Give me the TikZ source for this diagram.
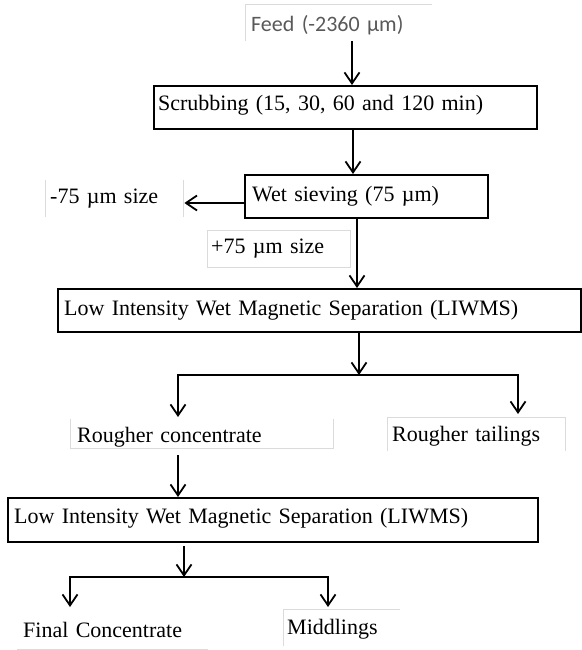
\documentclass[tikz,border=0pt]{standalone}
\usepackage{fontspec}
\setmainfont{Liberation Serif}
\newfontfamily\feedfont{Carlito}
\usetikzlibrary{arrows.meta,calc}

\begin{document}
\begin{tikzpicture}[x=1pt,y=-1pt,
  flow/.style={line width=1.8pt, -{Straight Barb[length=11pt,width=15pt]}},
  procbox/.style={draw, line width=2.2pt, inner ysep=0pt, align=left,
    anchor=north west, font=\fontsize{22}{26}\selectfont},
  txtbox/.style={inner ysep=0pt, align=left, anchor=north west,
    font=\fontsize{22}{26}\selectfont},
  faint/.style={draw=black!14, line width=1pt}
]
\useasboundingbox (0,0) rectangle (581,650);

% process boxes
\node[procbox, inner xsep=4pt, minimum width=383pt, minimum height=43pt, text width=375pt,
  text depth=9pt]
  (scrub) at (153,85) {\mbox{Scrubbing (15, 30, 60 and 120 min)}};
\node[procbox, inner xsep=7pt, minimum width=243pt, minimum height=43pt, text width=229pt]
  (sieve) at (244,174) {\mbox{Wet sieving (75 \textmu m)}};
\node[procbox, inner xsep=6pt, minimum width=523pt, minimum height=43pt, text width=511pt]
  (liwmsA) at (57,288) {\mbox{Low Intensity Wet Magnetic Separation (LIWMS)}};
\node[procbox, inner xsep=6pt, minimum width=530pt, minimum height=44pt, text width=518pt,
  text depth=9pt]
  (liwmsB) at (7,497) {\mbox{Low Intensity Wet Magnetic Separation (LIWMS)}};

% product labels
\node[txtbox, inner xsep=6pt, minimum width=187pt, minimum height=36pt, text width=175pt,
  font=\feedfont\fontsize{22}{26}\selectfont, text=black!65, text height=21pt]
  (feed) at (245,5) {\mbox{Feed (-2360 \textmu m)}};
\node[txtbox, inner xsep=5pt, minimum width=138pt, minimum height=37pt, text width=128pt]
  (minus) at (45,180) {\mbox{-75 \textmu m size}};
\node[txtbox, inner xsep=4pt, minimum width=143pt, minimum height=37pt, text width=135pt]
  (plus) at (207,230) {\mbox{+75 \textmu m size}};
\node[txtbox, inner xsep=7pt, minimum width=263pt, minimum height=29pt, text width=249pt,
  text height=23pt]
  (rc) at (70,419) {\mbox{Rougher concentrate}};
\node[txtbox, inner xsep=5pt, minimum width=178pt, minimum height=34pt, text width=168pt,
  text height=19pt]
  (rt) at (387,417) {\mbox{Rougher tailings}};
\node[txtbox, inner xsep=6pt, minimum width=191pt, minimum height=39pt, text width=179pt]
  (fc) at (17,610) {\mbox{Final Concentrate}};
\node[txtbox, inner xsep=4pt, minimum width=117pt, minimum height=37pt, text width=109pt,
  text height=18pt]
  (mid) at (283,609) {\mbox{Middlings}};

% faint text-box edges
\draw[faint] (feed.south west) -- (feed.north west) -- (feed.north east);
\draw[faint] (minus.north west) -- (minus.south west);
\draw[faint] (minus.north east) -- (minus.south east);
\draw[faint] (plus.north west) rectangle (plus.south east);
\draw[faint] (rc.north west) -- (rc.south west) -- (rc.south east) -- (rc.north east);
\draw[faint] (rt.south west) -- (rt.north west) -- (rt.north east) -- (rt.south east);
\draw[faint] (fc.south west) -- (fc.south east);
\draw[faint] (mid.south west) -- (mid.north west) -- (mid.north east);

% lanes and junctions
\coordinate (xa) at (352,0);
\coordinate (xb) at (353,0);
\coordinate (xc) at (357,0);
\coordinate (xl) at (178,0);
\coordinate (xr) at (518,0);
\coordinate (ya) at (0,203);
\coordinate (ja) at (359,375);
\coordinate (jb) at (184,577);
\coordinate (xfl) at (70,0);
\coordinate (xfr) at (328,0);

% connectors
\draw[flow] (feed.south -| xa) -- (scrub.north -| xa);
\draw[flow] (scrub.south -| xb) -- (sieve.north -| xb);
\draw[flow, shorten >=1pt] (sieve.west |- ya) -- (minus.east |- ya);
\draw[flow] (sieve.south -| xc) -- (liwmsA.north -| xc);
\draw[flow] (liwmsA.south -| ja) -- (ja);
\draw[flow, shorten >=2pt] (ja) -| (rc.north -| xl);
\draw[flow, shorten >=3pt] (ja) -| (rt.north -| xr);
\draw[flow, shorten <=7pt] (rc.south -| xl) -- (liwmsB.north -| xl);
\draw[flow, shorten <=3pt] (liwmsB.south -| jb) -- (jb);
\draw[flow, shorten >=3pt] (jb) -| (fc.north -| xfl);
\draw[flow, shorten >=2pt] (jb) -| (mid.north -| xfr);
\end{tikzpicture}
\end{document}
